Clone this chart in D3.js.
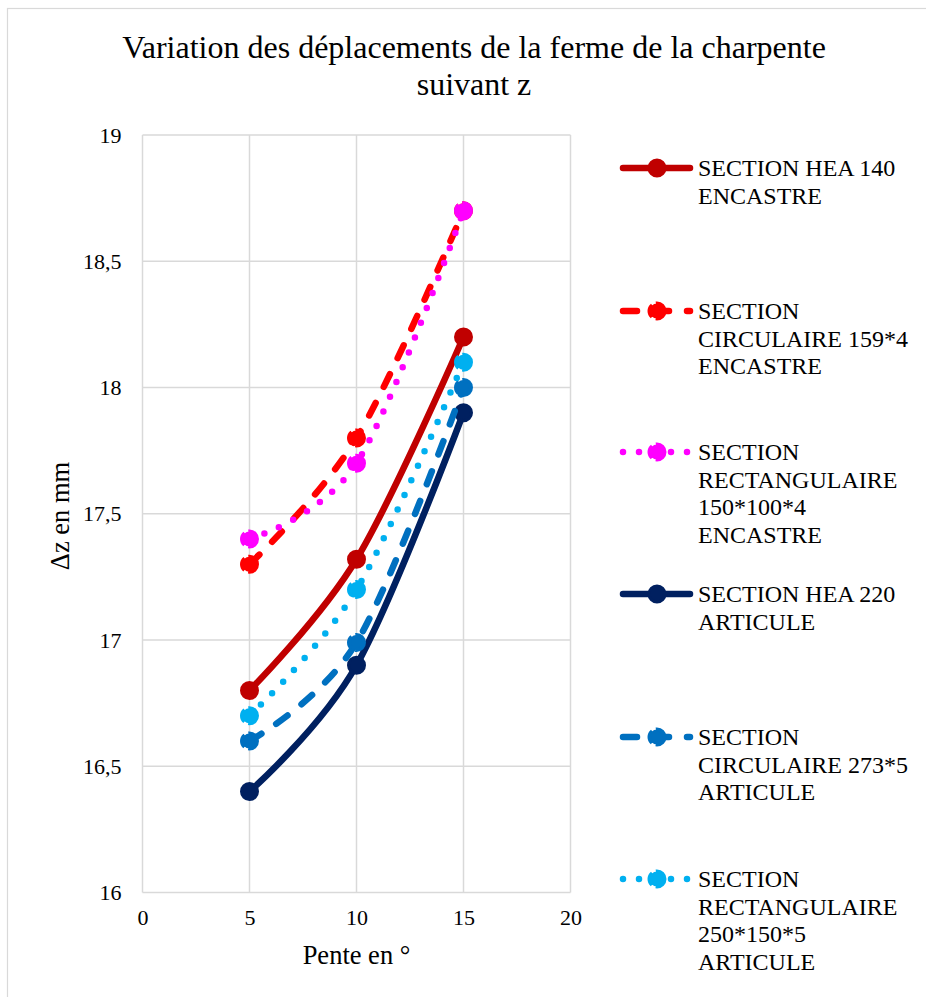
<!DOCTYPE html>
<html>
<head>
<meta charset="utf-8">
<script src="https://cdn.jsdelivr.net/npm/d3@7"></script>
<style>
  html, body { margin: 0; padding: 0; background: #fff; }
  svg { display: block; }
  text { font-family: "Liberation Serif", "Times New Roman", serif; fill: #000; }
</style>
</head>
<body>
<svg id="chart" width="926" height="997"></svg>
<script>
// Pente (degrés)
const pentes = [5, 10, 15];

// Déplacements suivant z (mm) pour chaque section
const hea140Encastre = [16.8, 17.32, 18.2];
const circ159Encastre = [17.3, 17.8, 18.7];
const rect150Encastre = [17.4, 17.7, 18.7];
const hea220Articule = [16.4, 16.9, 17.9];
const circ273Articule = [16.6, 16.99, 18.0];
const rect250Articule = [16.7, 17.2, 18.1];

const seriesNames = [
  ["SECTION HEA 140", "ENCASTRE"],
  ["SECTION", "CIRCULAIRE 159*4", "ENCASTRE"],
  ["SECTION", "RECTANGULAIRE", "150*100*4", "ENCASTRE"],
  ["SECTION HEA 220", "ARTICULE"],
  ["SECTION", "CIRCULAIRE 273*5", "ARTICULE"],
  ["SECTION", "RECTANGULAIRE", "250*150*5", "ARTICULE"]
];

const xTicks = [0, 5, 10, 15, 20];
const yTicks = [16, 16.5, 17, 17.5, 18, 18.5, 19];

const titleLines = ["Variation des déplacements de la ferme de la charpente", "suivant z"];
const xTitle = "Pente en °";
const yTitle = "Δz en mm";

// Styles des séries
const styles = [
  { color: "#C00000", dash: null },
  { color: "#FF0000", dash: "14,18" },
  { color: "#FF00FF", dash: "0,16" },
  { color: "#002060", dash: null },
  { color: "#0070C0", dash: "14,18" },
  { color: "#00B0F0", dash: "0,16" }
];

const allValues = [hea140Encastre, circ159Encastre, rect150Encastre,
                   hea220Articule, circ273Articule, rect250Articule];

const svg = d3.select("#chart");

// Cadre du graphique
svg.append("rect")
  .attr("x", 7.5).attr("y", 8.5)
  .attr("width", 940).attr("height", 1010)
  .attr("fill", "#fff").attr("stroke", "#d9d9d9").attr("stroke-width", 1.2);

const x = d3.scaleLinear().domain([0, 20]).range([142.5, 570.5]);
const y = d3.scaleLinear().domain([16, 19]).range([892.5, 135]);

// Quadrillage
const grid = svg.append("g");
grid.selectAll("line.v").data(xTicks).join("line")
  .attr("x1", d => x(d)).attr("x2", d => x(d))
  .attr("y1", y(19)).attr("y2", y(16))
  .attr("stroke", "#d9d9d9").attr("stroke-width", 1.5);
grid.selectAll("line.h").data(yTicks).join("line")
  .attr("x1", x(0)).attr("x2", x(20))
  .attr("y1", d => y(d)).attr("y2", d => y(d))
  .attr("stroke", "#d9d9d9").attr("stroke-width", 1.5);

// Axes
const fmt = d => String(d).replace(".", ",");
const xAxis = svg.append("g")
  .attr("transform", `translate(0,${y(16)})`)
  .call(d3.axisBottom(x).tickValues(xTicks).tickFormat(fmt).tickSize(0).tickPadding(17));
xAxis.select(".domain").remove();
xAxis.selectAll("text").style("font-size", "22px").attr("font-family", null);

const yAxis = svg.append("g")
  .attr("transform", `translate(${x(0)},0)`)
  .call(d3.axisLeft(y).tickValues(yTicks).tickFormat(fmt).tickSize(0).tickPadding(21));
yAxis.select(".domain").remove();
yAxis.selectAll("text").style("font-size", "22px").attr("font-family", null);

// Titres
svg.append("text")
  .attr("x", 474).attr("y", 58)
  .attr("text-anchor", "middle").style("font-size", "32px")
  .text(titleLines[0]);
svg.append("text")
  .attr("x", 474).attr("y", 95)
  .attr("text-anchor", "middle").style("font-size", "32px")
  .text(titleLines[1]);

svg.append("text")
  .attr("x", x(10)).attr("y", 964)
  .attr("text-anchor", "middle").style("font-size", "26.5px")
  .text(xTitle);

svg.append("text")
  .attr("transform", `translate(69,516) rotate(-90)`)
  .attr("text-anchor", "middle").style("font-size", "26.5px")
  .text(yTitle);

// Courbes lissées
const line = d3.line()
  .x(d => x(d[0])).y(d => y(d[1]))
  .curve(d3.curveCardinal.tension(0));

function marker(sel, st) {
  sel.attr("r", st.dash ? 7.5 : 8)
    .attr("fill", st.color)
    .attr("stroke", st.color)
    .attr("stroke-width", st.dash ? 4 : 3)
    .attr("stroke-dasharray", st.dash ? "13,4" : null);
}

const plot = svg.append("g");
allValues.forEach((vals, i) => {
  const st = styles[i];
  const pts = pentes.map((p, j) => [p, vals[j]]);
  plot.append("path")
    .datum(pts)
    .attr("d", line)
    .attr("fill", "none")
    .attr("stroke", st.color)
    .attr("stroke-width", 6.5)
    .attr("stroke-linecap", "round")
    .attr("stroke-linejoin", "round")
    .attr("stroke-dasharray", st.dash);
  plot.selectAll(null).data(pts).join("circle")
    .attr("cx", d => x(d[0])).attr("cy", d => y(d[1]))
    .call(marker, st);
});

// Légende
const legendY = [168, 311, 452, 594, 737, 879];
const legend = svg.append("g");
seriesNames.forEach((lines, i) => {
  const st = styles[i];
  const g = legend.append("g").attr("transform", `translate(0,${legendY[i]})`);
  g.append("line")
    .attr("x1", 623).attr("x2", 690).attr("y1", 0).attr("y2", 0)
    .attr("stroke", st.color).attr("stroke-width", 6.5)
    .attr("stroke-linecap", "round")
    .attr("stroke-dasharray", st.dash);
  g.append("circle")
    .attr("cx", 657).attr("cy", 0)
    .call(marker, st);
  const t = g.append("text").attr("x", 698).attr("y", 8).style("font-size", "24px");
  lines.forEach((l, k) => {
    t.append("tspan").attr("x", 698).attr("dy", k === 0 ? 0 : 27.5).text(l);
  });
});
</script>
</body>
</html>
